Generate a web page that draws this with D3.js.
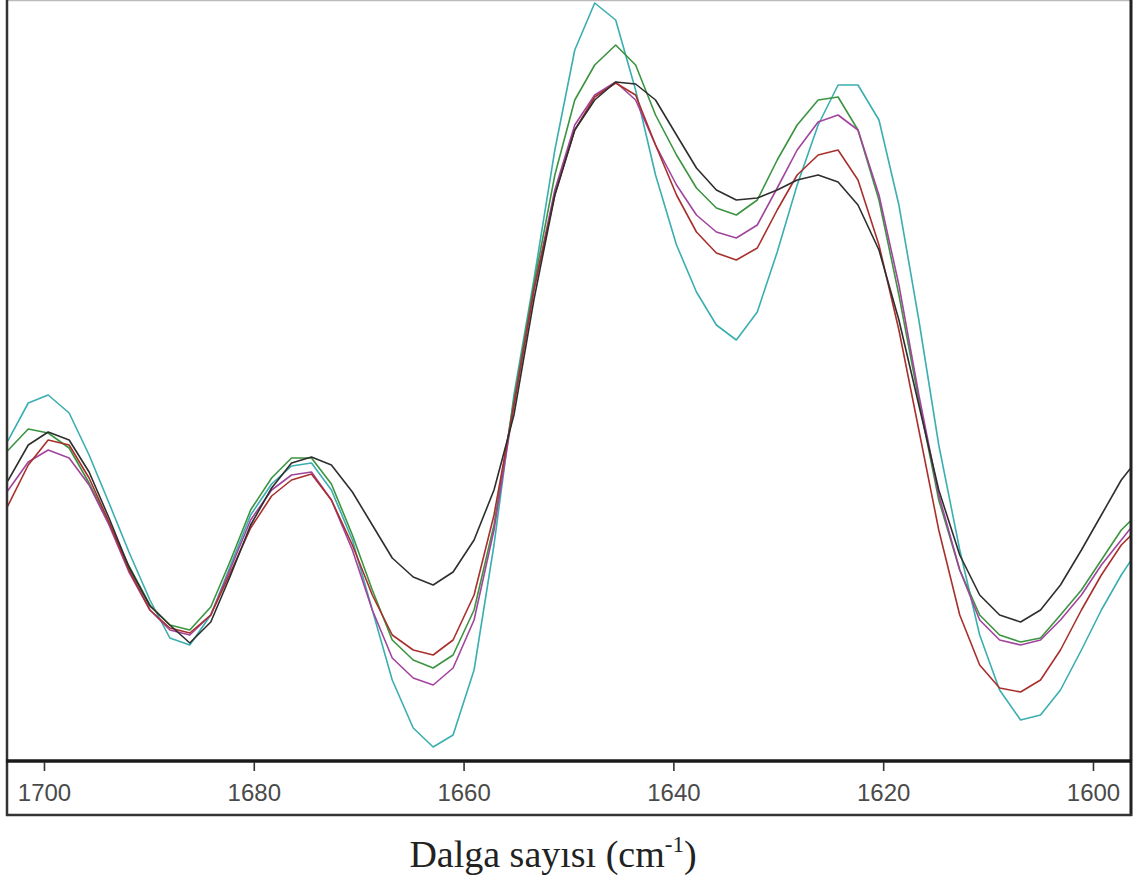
<!DOCTYPE html>
<html>
<head>
<meta charset="utf-8">
<script src="https://cdn.jsdelivr.net/npm/d3@7"></script>
<style>
	body { margin: 0; background: #fff; }
	#svg_plot { display: block; }
	.tick text { font-family: "Liberation Sans", Arial, sans-serif; font-size: 24px; fill: #4a4a4a; }
	.tick line { stroke: #333; stroke-width: 1.6; }
	.curve { fill: none; stroke-width: 1.6; stroke-linejoin: round; }
	#xlabel { font-family: "Liberation Serif", "Times New Roman", serif; font-size: 38px; fill: #222; }
</style>
</head>
<body>
<svg id="svg_plot" width="1136" height="881"></svg>
<script>
// wavenumbers (cm-1), one spectrum point each
const wavenumber = [1705.4, 1703.4, 1701.5, 1699.6, 1697.6, 1695.7, 1693.8, 1691.9, 1689.9, 1688.0,
	1686.1, 1684.1, 1682.2, 1680.3, 1678.3, 1676.4, 1674.5, 1672.6, 1670.6, 1668.7,
	1666.8, 1664.8, 1662.9, 1661.0, 1659.0, 1657.1, 1655.2, 1653.3, 1651.3, 1649.4,
	1647.5, 1645.5, 1643.6, 1641.7, 1639.7, 1637.8, 1635.9, 1634.0, 1632.0, 1630.1,
	1628.2, 1626.2, 1624.3, 1622.4, 1620.4, 1618.5, 1616.6, 1614.7, 1612.7, 1610.8,
	1608.9, 1606.9, 1605.0, 1603.1, 1601.1, 1599.2, 1597.3, 1595.4];

// relative absorbance (arbitrary units)
const cyan = [290, 320, 357, 365, 347, 305, 257, 208, 160, 122, 115, 145, 195, 245, 276, 294, 297, 270, 220, 150,
	80, 32, 13, 25, 90, 215, 365, 480, 610, 710, 757, 740, 670, 585, 515, 468, 435, 420, 448, 508,
	575, 635, 675, 675, 640, 555, 440, 315, 210, 125, 70, 40, 45, 70, 110, 150, 185, 215];
const green = [290, 310, 331, 327, 312, 277, 237, 194, 155, 135, 130, 153, 200, 250, 282, 302, 302, 276, 225, 170,
	120, 100, 92, 105, 150, 235, 360, 475, 585, 660, 695, 715, 695, 645, 605, 572, 552, 545, 560, 600,
	635, 660, 663, 630, 560, 465, 360, 260, 190, 145, 125, 118, 122, 145, 170, 200, 230, 250];
const magenta = [240, 270, 298, 310, 302, 275, 235, 188, 150, 130, 125, 145, 192, 240, 270, 285, 288, 260, 210, 150,
	102, 82, 75, 92, 140, 230, 355, 470, 570, 635, 665, 678, 660, 615, 575, 545, 528, 522, 535, 572,
	610, 638, 645, 630, 565, 475, 365, 265, 190, 140, 120, 115, 120, 140, 165, 195, 220, 245];
const red = [220, 255, 295, 320, 315, 282, 238, 190, 150, 132, 127, 145, 188, 232, 264, 280, 286, 260, 215, 165,
	125, 110, 105, 120, 165, 245, 355, 470, 565, 630, 663, 677, 665, 615, 565, 528, 507, 500, 512, 550,
	585, 605, 610, 580, 515, 430, 330, 230, 145, 95, 72, 68, 80, 110, 150, 185, 215, 235];
const black = [250, 280, 315, 328, 320, 288, 242, 193, 154, 135, 117, 138, 185, 235, 272, 297, 303, 295, 268, 235,
	202, 183, 175, 188, 220, 270, 345, 460, 565, 630, 660, 678, 676, 660, 625, 592, 570, 560, 562, 570,
	580, 585, 578, 555, 510, 440, 355, 270, 205, 165, 145, 138, 150, 175, 210, 245, 280, 305];

const series = [
	{name: "cyan",    values: cyan,    color: "#3aaeb0"},
	{name: "green",   values: green,   color: "#3b9440"},
	{name: "magenta", values: magenta, color: "#a2449e"},
	{name: "red",     values: red,     color: "#a8302c"},
	{name: "black",   values: black,   color: "#2e2e2e"}
];

const tick_values = [1700, 1680, 1660, 1640, 1620, 1600];

const svg = d3.select("#svg_plot");
const margin = {left: 8, right: 1130, top: 0};
const axis_y = 761, box_bottom = 815;

const xscale = d3.scaleLinear().domain([1703.43, 1596.47]).range([margin.left, margin.right]);
const yscale = d3.scaleLinear().domain([0, 760]).range([axis_y - 1, 0]);

svg.append("defs")
	.append("clipPath")
	.attr("id", "clip")
	.append("rect")
	.attr("x", margin.left)
	.attr("y", margin.top)
	.attr("width", margin.right - margin.left)
	.attr("height", axis_y - margin.top);

const plot = svg.append("g").attr("clip-path", "url(#clip)");

const line = d3.line()
	.x((d, i) => xscale(wavenumber[i]))
	.y(d => yscale(d));

plot.selectAll(".curve")
	.data(series)
	.join("path")
	.attr("class", "curve")
	.attr("stroke", d => d.color)
	.attr("d", d => line(d.values));

// frame
svg.append("line").attr("x1", margin.left - 1).attr("x2", margin.right + 1).attr("y1", 0.5).attr("y2", 0.5)
	.attr("stroke", "#bbb").attr("stroke-width", 1.5);
svg.append("line").attr("x1", margin.left - 1).attr("x2", margin.left - 1).attr("y1", 0).attr("y2", box_bottom + 1)
	.attr("stroke", "#333").attr("stroke-width", 2.5);
svg.append("line").attr("x1", margin.right + 1).attr("x2", margin.right + 1).attr("y1", 0).attr("y2", box_bottom + 1)
	.attr("stroke", "#222").attr("stroke-width", 3);
svg.append("line").attr("x1", margin.left - 2).attr("x2", margin.right + 2).attr("y1", axis_y).attr("y2", axis_y)
	.attr("stroke", "#1a1a1a").attr("stroke-width", 3.5);
svg.append("line").attr("x1", margin.left - 2).attr("x2", margin.right + 2).attr("y1", box_bottom).attr("y2", box_bottom)
	.attr("stroke", "#333").attr("stroke-width", 2.5);

const xaxis = svg.append("g")
	.attr("transform", "translate(0," + (axis_y + 1) + ")")
	.call(d3.axisBottom(xscale).tickValues(tick_values).tickSize(9).tickPadding(13).tickFormat(d3.format("d")));
xaxis.select(".domain").remove();

svg.append("text")
	.attr("id", "xlabel")
	.attr("x", 553)
	.attr("y", 867)
	.attr("text-anchor", "middle")
	.call(t => {
		t.append("tspan").text("Dalga sayısı (cm");
		t.append("tspan").attr("font-size", "23px").attr("dy", -15).text("-1");
		t.append("tspan").attr("dy", 15).text(")");
	});
</script>
</body>
</html>
